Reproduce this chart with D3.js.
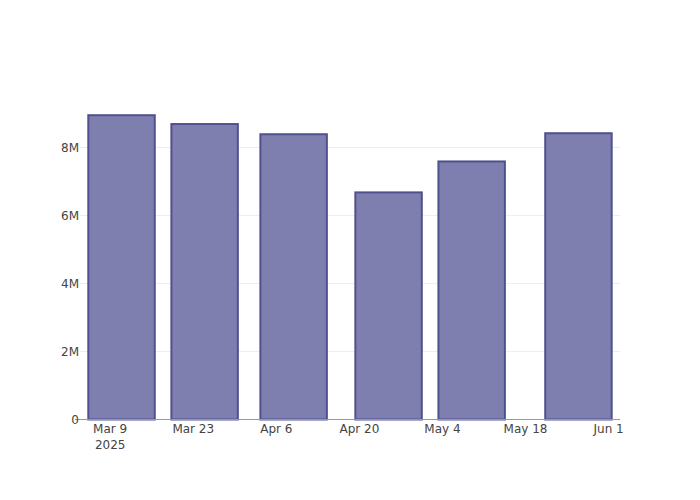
<!DOCTYPE html>
<html>
<head>
<meta charset="utf-8">
<script src="https://cdn.jsdelivr.net/npm/d3@7"></script>
<style>
body{margin:0;background:#fff;}
svg text{font-family:"DejaVu Sans",Verdana,sans-serif;font-size:12px;fill:#444;}
</style>
</head>
<body>
<svg id="c" width="700" height="500"></svg>
<script>
const dates = ["2025-03-11","2025-03-25","2025-04-09","2025-04-25","2025-05-09","2025-05-27"];
const values = [8950000, 8690000, 8390000, 6680000, 7590000, 8420000];
const yTicks = [0, 2000000, 4000000, 6000000, 8000000];
const yTickLabels = ["0","2M","4M","6M","8M"];
const xTicks = ["2025-03-09","2025-03-23","2025-04-06","2025-04-20","2025-05-04","2025-05-18","2025-06-01"];
const xTickLabels = [["Mar 9","2025"],["Mar 23"],["Apr 6"],["Apr 20"],["May 4"],["May 18"],["Jun 1"]];

const parse = d3.utcParse("%Y-%m-%d");
const DAY = 86400000;
const m = {l:80, r:80, t:100, b:80};
const W = 700, H = 500;
const svg = d3.select("#c");

const dd = dates.map(parse);
const barW = 14 * 0.8 * DAY;
const pad = 1.4 * DAY;
const x = d3.scaleUtc()
  .domain([new Date(+dd[0] - barW/2 - pad), new Date(+dd[dd.length-1] + barW/2 + pad)])
  .range([m.l, W - m.r]);
const yMax = d3.max(values) * 1.05;
const y = d3.scaleLinear().domain([0, yMax]).range([H - m.b - 0.5, m.t]);

// gridlines
svg.append("g").selectAll("line").data(yTicks.slice(1)).join("line")
  .attr("x1", m.l).attr("x2", W - m.r)
  .attr("y1", d => y(d)).attr("y2", d => y(d))
  .attr("stroke", "#eee").attr("stroke-width", 1);

// bars
svg.append("g").selectAll("rect").data(dd).join("rect")
  .attr("x", (d) => x(new Date(+d - barW/2)))
  .attr("width", (d) => x(new Date(+d + barW/2)) - x(new Date(+d - barW/2)))
  .attr("y", (d,i) => y(values[i]))
  .attr("height", (d,i) => y(0) - y(values[i]))
  .attr("fill", "#7f7faf")
  .attr("stroke", "#50508f")
  .attr("stroke-width", 2);

// x axis line
svg.append("line")
  .attr("x1", m.l - 5).attr("x2", W - m.r)
  .attr("y1", y(0)).attr("y2", y(0))
  .attr("stroke", "#999").attr("stroke-width", 1);

// y labels
const yAxis = d3.axisLeft(y).tickValues(yTicks).tickFormat((d,i) => yTickLabels[i]).tickSize(0).tickPadding(0);
const ya = svg.append("g").attr("transform", `translate(${m.l - 1},0)`).call(yAxis);
ya.select(".domain").remove();
ya.selectAll("text").style("font-family", '"DejaVu Sans",Verdana,sans-serif').style("font-size", "12px").attr("fill", "#444").attr("dy", "0.35em");

// x labels
const xAxis = d3.axisBottom(x).tickValues(xTicks.map(parse)).tickFormat(() => "").tickSize(0);
const xa = svg.append("g").attr("transform", `translate(0,${y(0)})`).call(xAxis);
xa.select(".domain").remove();
xa.selectAll(".tick").each(function(d, i) {
  const t = d3.select(this).append("text").attr("text-anchor", "middle").attr("fill", "#444")
    .style("font-family", '"DejaVu Sans",Verdana,sans-serif').style("font-size", "12px");
  xTickLabels[i].forEach((s, j) => {
    t.append("tspan").attr("x", 0).attr("y", 13.5 + j * 15.5).text(s);
  });
});
</script>
</body>
</html>
